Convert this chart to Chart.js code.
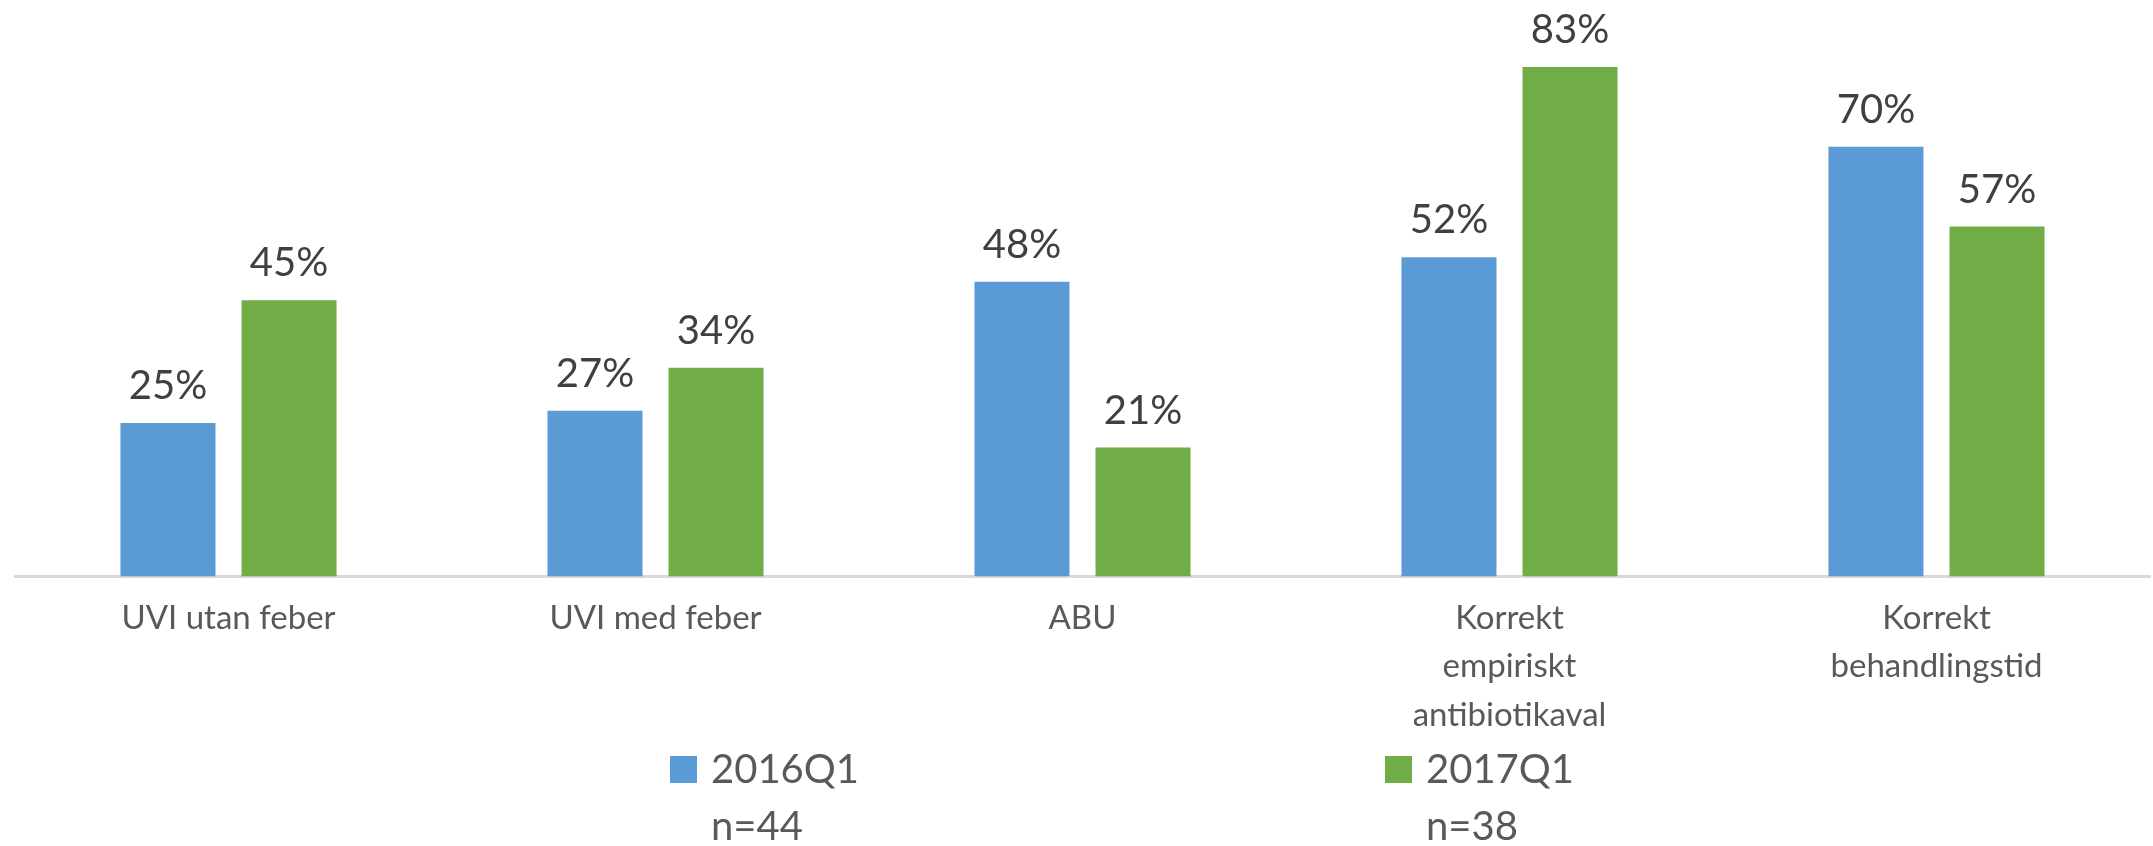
<!DOCTYPE html>
<html>
<head>
<meta charset="utf-8">
<script src="https://cdn.jsdelivr.net/npm/chart.js@4/dist/chart.umd.min.js"></script>
<style>
  html, body { margin: 0; padding: 0; background: #fff; }
  #wrap { width: 2153px; height: 846px; position: relative; }
</style>
</head>
<body>
<div id="wrap"><canvas id="myChart"></canvas></div>
<script>
'use strict';

// data
var categories = [
  'UVI utan feber',
  'UVI med feber',
  'ABU',
  ['Korrekt', 'empiriskt', 'antibiotikaval'],
  ['Korrekt', 'behandlingstid']
];
var seriesNames = ['2016Q1', '2017Q1'];
var seriesN = ['n=44', 'n=38'];
var values2016 = [25, 27, 48, 52, 70];
var values2017 = [45, 34, 21, 83, 57];

var FONT = 'Lato, "Open Sans", sans-serif';

// percent labels above every bar
var barLabels = {
  id: 'barLabels',
  afterDatasetsDraw: function(chart) {
    var ctx = chart.ctx;
    ctx.save();
    ctx.font = '40px ' + FONT;
    ctx.fillStyle = '#404040';
    ctx.textAlign = 'center';
    ctx.textBaseline = 'alphabetic';
    chart.data.datasets.forEach(function(ds, i) {
      var meta = chart.getDatasetMeta(i);
      meta.data.forEach(function(bar, j) {
        ctx.fillText(ds.data[j] + '%', bar.x, bar.y - 24);
      });
    });
    ctx.restore();
  }
};

// legend with two lines per entry, placed under the axis labels
var twoLineLegend = {
  id: 'twoLineLegend',
  afterDraw: function(chart) {
    var ctx = chart.ctx;
    var xs = [670, 1385];
    ctx.save();
    ctx.font = '40px ' + FONT;
    ctx.textAlign = 'left';
    ctx.textBaseline = 'alphabetic';
    chart.data.datasets.forEach(function(ds, i) {
      ctx.fillStyle = ds.backgroundColor;
      ctx.fillRect(xs[i], 756, 27, 27);
      ctx.fillStyle = '#595959';
      ctx.fillText(seriesNames[i], xs[i] + 41, 783);
      ctx.fillText(seriesN[i], xs[i] + 41, 840);
    });
    ctx.restore();
  }
};

var ctx = document.getElementById('myChart').getContext('2d');
var myChart = new Chart(ctx, {
  type: 'bar',
  data: {
    labels: categories,
    datasets: [{
      label: seriesNames[0],
      data: values2016,
      backgroundColor: '#5B9BD5',
      categoryPercentage: 0.567,
      barPercentage: 0.785
    }, {
      label: seriesNames[1],
      data: values2017,
      backgroundColor: '#70AD47',
      categoryPercentage: 0.567,
      barPercentage: 0.785
    }]
  },
  options: {
    responsive: true,
    maintainAspectRatio: false,
    animation: false,
    layout: {
      padding: { top: 24, left: 15, right: 3, bottom: 89 }
    },
    plugins: {
      legend: { display: false },
      tooltip: { enabled: false }
    },
    scales: {
      x: {
        grid: { display: false, drawTicks: false },
        border: { display: true, color: '#d9d9d9', width: 3 },
        ticks: {
          padding: 18,
          color: '#595959',
          maxRotation: 0,
          autoSkip: false,
          font: { family: FONT, size: 33, lineHeight: 1.46 }
        }
      },
      y: {
        display: false,
        min: 0,
        max: 90
      }
    }
  },
  plugins: [barLabels, twoLineLegend]
});
</script>
</body>
</html>
